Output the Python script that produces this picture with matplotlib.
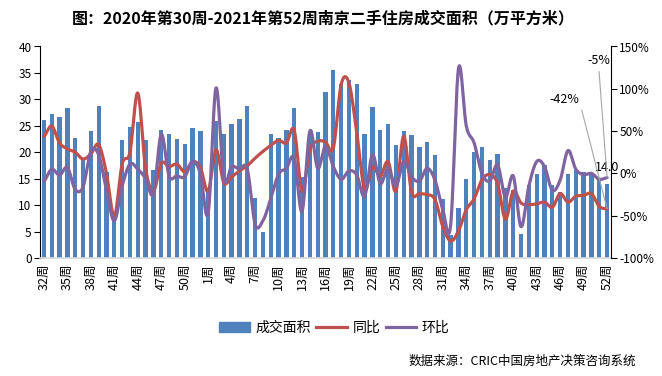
import numpy as np
import matplotlib.pyplot as plt
from matplotlib.patches import Patch
from matplotlib.lines import Line2D

plt.rcParams['font.family'] = ['Noto Sans CJK SC', 'DejaVu Sans']

# 2020 week 32 .. 2021 week 52
weeks = [f'{w}周' for w in range(32, 53)] + [f'{w}周' for w in range(1, 53)]

area = [26.1, 27.3, 26.7, 28.4, 22.7, 18.8, 24.1, 28.8, 16.3, 7.5,
        22.4, 24.8, 25.8, 22.4, 16.7, 24.3, 23.5, 22.6, 21.6, 24.6,
        24.1, 12.9, 26.0, 23.5, 25.4, 26.3, 28.8, 11.4, 5.0, 23.5,
        22.7, 24.3, 28.4, 15.4, 23.2, 23.9, 31.4, 35.6, 33.0, 33.7,
        33.0, 23.5, 28.6, 24.3, 25.4, 21.4, 24.1, 23.3, 20.9, 22.0,
        19.5, 11.2, 4.3, 9.4, 15.0, 20.1, 20.9, 18.6, 19.7, 13.3,
        12.9, 4.6, 13.9, 15.8, 17.6, 13.9, 12.5, 15.8, 16.7, 16.2,
        16.1, 14.7, 14.0]

yoy = [44, 56, 36, 29, 25, 17, 23, 34, 0, -51,
       11, 25, 95, 6, -21, 12, 8, 11, 2, 14,
       7, -21, 28, -11, -4, 3, 9, 18, 26, 33,
       39, 36, 51, -21, 28, 38, 37, 30, 105, 107,
       48, -19, 8, -3.5, 14, -21, 44, -22, -24, -25,
       -31, -63, -80, -68, -43, -30, -7.5, -1.5, -12, -54,
       -21, -35, -37, -36, -34, -40, -24, -34, -27, -26,
       -24, -39, -42]

mom = [-9, 5, -2, 7, -19, -16, 26, 22, -20, -56,
       -15, 11, 5, -6, -24, 46, -3, -3, -4, 14,
       0, -47, 101, -6, 8, 5, 5, -60, -56, -30,
       -1, 6, 18, -45, 50, 6, 32, 8, -7, 3,
       -2, -27, 22, -12, 6, -15, 14, -4, -9, 6,
       -8, -43, -61, 124, 56, 36, 0, -9, 10, -28,
       -3, -63, -15, 14, 8, -20, -8, 27, 5, -1.5,
       0, -7, -5]

BLUE = '#4F81BD'
RED = '#C0504D'
PURPLE = '#8064A2'


def smooth(y, n=16):
    # catmull-rom, close to excel's smoothed line
    y = np.asarray(y, dtype=float)
    p = np.concatenate([[y[0]], y, [y[-1]]])
    xs, ys = [], []
    t = np.linspace(0, 1, n, endpoint=False)
    for i in range(len(y) - 1):
        p0, p1, p2, p3 = p[i], p[i + 1], p[i + 2], p[i + 3]
        v = 0.5 * ((2 * p1) + (-p0 + p2) * t
                   + (2 * p0 - 5 * p1 + 4 * p2 - p3) * t ** 2
                   + (-p0 + 3 * p1 - 3 * p2 + p3) * t ** 3)
        xs.extend(i + t)
        ys.extend(v)
    xs.append(len(y) - 1)
    ys.append(y[-1])
    return np.array(xs), np.array(ys)


x = np.arange(len(area))

fig = plt.figure(figsize=(6.62, 3.76), dpi=100)
ax = fig.add_axes([40 / 662, 1 - 258 / 376, 571 / 662, 211.5 / 376])
ax.bar(x, area, width=0.55, color=BLUE, zorder=2)
ax.set_xlim(-0.5, len(area) - 0.5)
ax.set_ylim(0, 40)
ax.set_yticks(range(0, 41, 5))
ax.set_xticks(x[::3])
ax.set_xticklabels(weeks[::3], rotation=90, fontsize=9)
ax.tick_params(axis='x', length=0, pad=4)
ax.tick_params(axis='y', labelsize=8.5, length=4, width=0.8, direction='out', pad=2)
for s in ['top', 'right']:
    ax.spines[s].set_visible(False)
ax.spines['bottom'].set_color('#D9D9D9')
ax.spines['bottom'].set_linewidth(1.2)
ax.spines['left'].set_linewidth(0.8)

ax2 = ax.twinx()
sx, sy = smooth(yoy)
ax2.plot(sx, sy, color=RED, lw=2.3, solid_capstyle='round')
sx, sy = smooth(mom)
ax2.plot(sx, sy, color=PURPLE, lw=2.3, solid_capstyle='round')
ax2.set_ylim(-100, 150)
ax2.set_yticks(range(-100, 151, 50))
ax2.set_yticklabels([f'{v}%' for v in range(-100, 151, 50)])
ax2.tick_params(axis='y', labelsize=8.5, length=4, width=0.8, direction='out', pad=2)
for s in ['top', 'left', 'bottom']:
    ax2.spines[s].set_visible(False)
ax2.spines['right'].set_linewidth(0.8)

# data labels on the last week
last = len(area) - 1
ax.annotate(f'{area[-1]:.1f}', xy=(last, area[-1]), xytext=(0, 12),
            textcoords='offset points', ha='center', va='center', fontsize=9)
ax2.annotate(f'{yoy[-1]:.0f}%', xy=(last, yoy[-1]), xytext=(-31, 79),
             textcoords='offset points', ha='center', va='center', fontsize=9,
             arrowprops=dict(arrowstyle='-', color='#A6A6A6', lw=0.8,
                             relpos=(1, 0.5), shrinkA=1, shrinkB=0))
ax2.annotate(f'{mom[-1]:.0f}%', xy=(last, mom[-1]), xytext=(-6, 84),
             textcoords='offset points', ha='center', va='center', fontsize=9,
             arrowprops=dict(arrowstyle='-', color='#A6A6A6', lw=0.8,
                             relpos=(0.5, 0), shrinkA=1, shrinkB=0))

handles = [Patch(color=BLUE), Line2D([], [], color=RED, lw=2.3),
           Line2D([], [], color=PURPLE, lw=2.3)]
fig.legend(handles, ['成交面积', '同比', '环比'], loc='center',
           bbox_to_anchor=(0.505, 0.128), ncol=3, frameon=False, fontsize=10,
           handlelength=2.2, handletextpad=0.4, columnspacing=0.4)

fig.text(0.488, 0.952, '图：2020年第30周-2021年第52周南京二手住房成交面积（万平方米）',
         ha='center', va='center', fontsize=11.5, fontweight='bold')
fig.text(0.96, 0.038, '数据来源：CRIC中国房地产决策咨询系统',
         ha='right', va='center', fontsize=9)

fig.savefig('out.png', dpi=100)
